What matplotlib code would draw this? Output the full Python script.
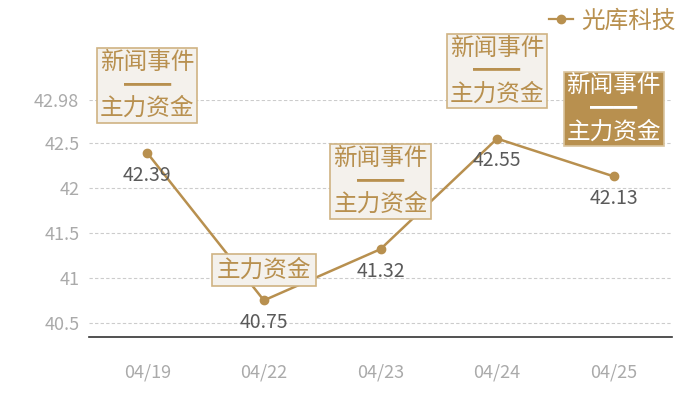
import matplotlib
matplotlib.use("Agg")
import matplotlib.pyplot as plt
from matplotlib.lines import Line2D

plt.rcParams['font.family'] = ['Noto Sans CJK SC', 'DejaVu Sans']

dates = ["04/19", "04/22", "04/23", "04/24", "04/25"]
prices = [42.39, 40.75, 41.32, 42.55, 42.13]
series_name = "光库科技"
notes = ["新闻事件\n━━\n主力资金", "主力资金", "新闻事件\n━━\n主力资金",
         "新闻事件\n━━\n主力资金", "新闻事件\n━━\n主力资金"]
highlight = [False, False, False, False, True]
yticks = [40.5, 41, 41.5, 42, 42.5, 42.98]

gold = "#b8904f"
box_face = "#f4f1ec"
box_edge = "#cfb383"

fig = plt.figure(figsize=(7, 4), dpi=100)
ax = fig.add_axes([89/700, 63/400, 583/700, 237/400])

x = list(range(len(dates)))
ymin = min(prices) * 0.99
ymax = max(prices) * 1.01
ax.set_xlim(-0.5, len(dates) - 0.5)
ax.set_ylim(ymin, ymax)

ax.set_yticks(yticks)
ax.set_yticklabels([f"{t:g}" for t in yticks])
ax.set_xticks(x)
ax.set_xticklabels(dates)
ax.tick_params(axis='x', length=0, pad=19, labelsize=13, labelcolor="#aaaaaa")
ax.tick_params(axis='y', length=0, pad=7, labelsize=13, labelcolor="#aaaaaa")

for s in ['top', 'right', 'left']:
    ax.spines[s].set_visible(False)
ax.spines['bottom'].set_color("#333333")
ax.spines['bottom'].set_linewidth(1.2)

ax.yaxis.grid(True, linestyle=(0, (3, 2)), color="#cccccc", linewidth=0.8)
ax.set_axisbelow(True)

ax.plot(x, prices, color=gold, linewidth=1.8, marker='o', markersize=6,
        markerfacecolor=gold, markeredgecolor=gold, zorder=3, clip_on=False)

for xi, v in zip(x, prices):
    ax.annotate(f"{v:.2f}", xy=(xi, v), xytext=(0, -22), textcoords='offset pixels',
                ha='center', va='center', fontsize=14, color="#5a5a5a", zorder=4)

for xi, v, note, hl in zip(x, prices, notes, highlight):
    nlines = note.count("\n") + 1
    off = 33 if nlines > 1 else 19
    if hl:
        fc, ec, tc = gold, "#d9c49e", "white"
    else:
        fc, ec, tc = box_face, box_edge, gold
    pad = 0.12 if nlines > 1 else 0.2
    ax.annotate(note, xy=(xi, v), xytext=(0, off), textcoords='offset pixels',
                ha='center', va='bottom', fontsize=17, color=tc, linespacing=1.0,
                multialignment='center', zorder=5, annotation_clip=False,
                bbox=dict(boxstyle=f'square,pad={pad}', facecolor=fc, edgecolor=ec, linewidth=1.2))

# legend
handle = Line2D([0], [0], color=gold, linewidth=1.6, marker='o', markersize=6,
                markerfacecolor=gold, markeredgecolor=gold)
leg = fig.legend([handle], [series_name], loc='upper right', bbox_to_anchor=(0.985, 1.012),
                 frameon=False, fontsize=17, handlelength=1.0, handletextpad=0.35,
                 borderaxespad=0.2)
for t in leg.get_texts():
    t.set_color(gold)

fig.savefig("out.png", dpi=100)
